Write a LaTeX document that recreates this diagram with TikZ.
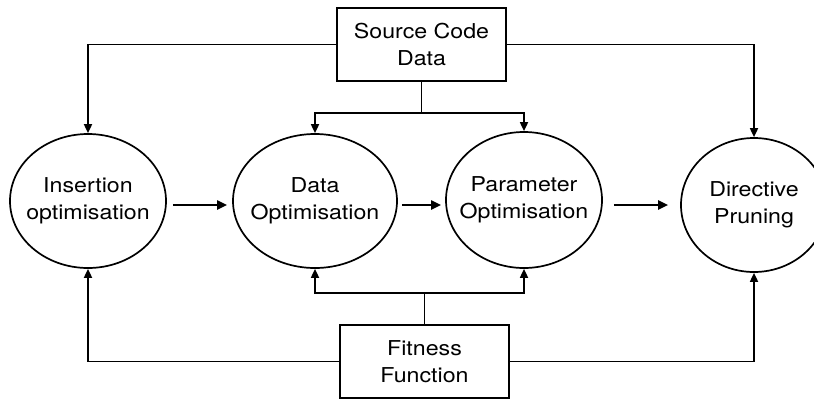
\documentclass[tikz,border=0pt]{standalone}
\usepackage{fontspec}
\setmainfont[FakeStretch=1.13]{TeX Gyre Heros}
\usetikzlibrary{shapes.geometric,arrows.meta,calc}
\begin{document}
\begin{tikzpicture}[x=1pt,y=-1pt,
  every node/.style={font=\fontsize{20.5}{27.5}\selectfont, align=center, inner sep=0pt},
  stage/.style={draw, ellipse, line width=1.7pt, inner xsep=-22pt, inner ysep=0pt},
  databox/.style={draw, rectangle, line width=1.7pt, minimum width=169pt, minimum height=73pt},
  link/.style={line width=1.7pt},
  flow/.style={link, -{Triangle[length=9pt,width=8pt]}},
  order/.style={line width=2pt, -{Triangle[length=10pt,width=9pt]}}
]
\useasboundingbox (0,0) rectangle (814,400);

% processing stages
\node[stage, minimum width=156pt, minimum height=134pt] (ins) at (88,201) {Insertion\\optimisation};
\node[stage, minimum width=164pt, minimum height=134pt] (dat) at (315,201) {Data\\Optimisation};
\node[stage, minimum width=156pt, minimum height=136pt] (par) at (524,200) {Parameter\\Optimisation};
\node[stage, minimum width=146pt, minimum height=134pt] (dir) at (754,205) {Directive\\Pruning};

% inputs
\node[databox] (src) at (421.5,44.5) {Source Code\\Data};
\node[databox] (fit) at (424.5,361.5) {Fitness\\Function};

% branch points
\coordinate (tj) at (421.5,113);
\coordinate (bj) at (424.5,293);

% source code data feeds every stage
\draw[flow] (src.west) -| (ins.north);
\draw[flow] (src.east) -| (dir.north);
\draw[link] (src.south) -- (tj);
\draw[flow] (tj) -| (dat.north);
\draw[flow] (tj) -| (par.north);

% fitness function feeds every stage
\draw[flow] (fit.west) -| (ins.south);
\draw[flow] (fit.east) -| (dir.south);
\draw[link] (fit.north) -- (bj);
\draw[flow] (bj) -| (dat.south);
\draw[flow] (bj) -| (par.south);

% pipeline order
\draw[order] ($(ins.east)+(6,4)$) -- ($(dat.west)+(-5,4)$);
\draw[order] ($(dat.east)+(4,4)$) -- ($(par.west)+(-4,5)$);
\draw[order] ($(par.east)+(11,5)$) -- ($(dir.west)+(-12,0)$);
\end{tikzpicture}
\end{document}
